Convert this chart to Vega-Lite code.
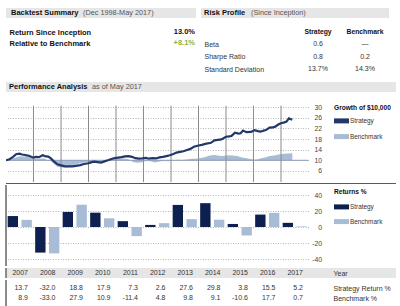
{
  "$schema": "https://vega.github.io/schema/vega-lite/v6.json",
  "background": "white",
  "padding": {"left": 5, "top": 8, "right": 0, "bottom": 0},
  "spacing": 0,
  "resolve": {"scale": {"color": "independent"}, "legend": {"color": "independent"}},
  "config": {
    "font": "Liberation Sans",
    "view": {"stroke": null},
    "locale": {"number": {"decimal": ".", "thousands": ",", "grouping": [3], "currency": ["$", ""], "minus": "-"}},
    "text": {"fontSize": 7, "color": "#333"},
    "axis": {"labelFontSize": 6.8, "labelColor": "#444"}
  },
  "datasets": {
    "bars": [
      {"year": "2007", "series": "Strategy", "ret": 13.7}, {"year": "2007", "series": "Benchmark", "ret": 8.9},
      {"year": "2008", "series": "Strategy", "ret": -32.0}, {"year": "2008", "series": "Benchmark", "ret": -33.0},
      {"year": "2009", "series": "Strategy", "ret": 18.8}, {"year": "2009", "series": "Benchmark", "ret": 27.9},
      {"year": "2010", "series": "Strategy", "ret": 17.9}, {"year": "2010", "series": "Benchmark", "ret": 10.9},
      {"year": "2011", "series": "Strategy", "ret": 7.3}, {"year": "2011", "series": "Benchmark", "ret": -11.4},
      {"year": "2012", "series": "Strategy", "ret": 2.6}, {"year": "2012", "series": "Benchmark", "ret": 4.8},
      {"year": "2013", "series": "Strategy", "ret": 27.6}, {"year": "2013", "series": "Benchmark", "ret": 9.8},
      {"year": "2014", "series": "Strategy", "ret": 29.8}, {"year": "2014", "series": "Benchmark", "ret": 9.1},
      {"year": "2015", "series": "Strategy", "ret": 3.8}, {"year": "2015", "series": "Benchmark", "ret": -10.6},
      {"year": "2016", "series": "Strategy", "ret": 15.5}, {"year": "2016", "series": "Benchmark", "ret": 17.7},
      {"year": "2017", "series": "Strategy", "ret": 5.2}, {"year": "2017", "series": "Benchmark", "ret": 0.7}
    ],
    "yearStarts": [
      {"year": "2008"}, {"year": "2009"}, {"year": "2010"}, {"year": "2011"}, {"year": "2012"},
      {"year": "2013"}, {"year": "2014"}, {"year": "2015"}, {"year": "2016"}, {"year": "2017"}
    ],
    "strategy": [
      {"date": "2007-01-01", "value": 10.0}, {"date": "2007-02-15", "value": 10.4}, {"date": "2007-04-01", "value": 11.2},
      {"date": "2007-05-15", "value": 12.3}, {"date": "2007-07-01", "value": 12.5}, {"date": "2007-08-01", "value": 12.2},
      {"date": "2007-09-15", "value": 12.0}, {"date": "2007-11-01", "value": 11.7}, {"date": "2008-01-01", "value": 11.0},
      {"date": "2008-02-01", "value": 11.3}, {"date": "2008-03-15", "value": 11.2}, {"date": "2008-05-01", "value": 11.9},
      {"date": "2008-06-01", "value": 11.6}, {"date": "2008-07-15", "value": 11.4}, {"date": "2008-08-15", "value": 10.8},
      {"date": "2008-10-01", "value": 9.5}, {"date": "2008-11-15", "value": 8.5}, {"date": "2009-01-01", "value": 8.1},
      {"date": "2009-02-15", "value": 7.8}, {"date": "2009-04-01", "value": 7.7}, {"date": "2009-06-01", "value": 7.7},
      {"date": "2009-07-15", "value": 7.9}, {"date": "2009-09-15", "value": 8.2}, {"date": "2009-11-01", "value": 8.6},
      {"date": "2010-01-01", "value": 8.9}, {"date": "2010-02-01", "value": 9.2}, {"date": "2010-03-15", "value": 9.5},
      {"date": "2010-05-01", "value": 9.3}, {"date": "2010-06-15", "value": 9.1}, {"date": "2010-08-01", "value": 9.6},
      {"date": "2010-09-15", "value": 10.0}, {"date": "2010-11-01", "value": 10.5}, {"date": "2010-12-15", "value": 10.8},
      {"date": "2011-02-01", "value": 11.0}, {"date": "2011-03-15", "value": 11.2}, {"date": "2011-05-01", "value": 11.5},
      {"date": "2011-06-15", "value": 11.6}, {"date": "2011-08-01", "value": 11.3}, {"date": "2011-09-15", "value": 10.8},
      {"date": "2011-11-01", "value": 10.6}, {"date": "2011-12-15", "value": 10.7}, {"date": "2012-02-01", "value": 10.9},
      {"date": "2012-03-15", "value": 10.6}, {"date": "2012-05-01", "value": 10.8}, {"date": "2012-06-15", "value": 10.7},
      {"date": "2012-08-01", "value": 11.1}, {"date": "2012-09-15", "value": 11.3}, {"date": "2012-11-01", "value": 11.6},
      {"date": "2012-12-15", "value": 11.9}, {"date": "2013-02-01", "value": 12.4}, {"date": "2013-03-15", "value": 12.9},
      {"date": "2013-05-01", "value": 13.2}, {"date": "2013-06-15", "value": 13.4}, {"date": "2013-08-01", "value": 13.9},
      {"date": "2013-09-15", "value": 14.3}, {"date": "2013-11-01", "value": 15.1}, {"date": "2014-01-01", "value": 15.6},
      {"date": "2014-02-15", "value": 15.8}, {"date": "2014-04-01", "value": 16.2}, {"date": "2014-06-15", "value": 16.6},
      {"date": "2014-08-01", "value": 17.5}, {"date": "2014-09-15", "value": 17.7}, {"date": "2014-11-01", "value": 17.9},
      {"date": "2015-01-01", "value": 18.9}, {"date": "2015-02-15", "value": 19.0}, {"date": "2015-03-15", "value": 19.2},
      {"date": "2015-05-01", "value": 20.4}, {"date": "2015-06-15", "value": 20.1}, {"date": "2015-07-15", "value": 20.2},
      {"date": "2015-08-15", "value": 21.2}, {"date": "2015-10-01", "value": 20.6}, {"date": "2015-12-01", "value": 20.7},
      {"date": "2016-01-15", "value": 21.4}, {"date": "2016-03-01", "value": 21.0}, {"date": "2016-04-01", "value": 20.8},
      {"date": "2016-05-15", "value": 21.2}, {"date": "2016-06-15", "value": 21.4}, {"date": "2016-08-01", "value": 22.3},
      {"date": "2016-09-15", "value": 22.4}, {"date": "2016-10-15", "value": 22.7}, {"date": "2016-12-01", "value": 23.6},
      {"date": "2017-01-01", "value": 24.0}, {"date": "2017-02-15", "value": 24.3}, {"date": "2017-03-15", "value": 24.6},
      {"date": "2017-04-15", "value": 25.8}, {"date": "2017-05-31", "value": 25.3}
    ],
    "benchmark": [
      {"date": "2007-01-01", "value": 10.0}, {"date": "2007-03-01", "value": 10.4}, {"date": "2007-05-01", "value": 11.0},
      {"date": "2007-07-01", "value": 11.5}, {"date": "2007-09-01", "value": 11.4}, {"date": "2007-10-15", "value": 11.8},
      {"date": "2007-12-01", "value": 11.1}, {"date": "2008-01-15", "value": 10.6}, {"date": "2008-03-15", "value": 10.5},
      {"date": "2008-05-15", "value": 10.8}, {"date": "2008-07-01", "value": 10.1}, {"date": "2008-08-15", "value": 9.8},
      {"date": "2008-10-01", "value": 8.6}, {"date": "2008-11-15", "value": 7.6}, {"date": "2009-01-01", "value": 7.4},
      {"date": "2009-02-15", "value": 7.1}, {"date": "2009-04-01", "value": 7.3}, {"date": "2009-06-01", "value": 8.0},
      {"date": "2009-08-01", "value": 8.6}, {"date": "2009-10-01", "value": 9.0}, {"date": "2009-12-01", "value": 9.3},
      {"date": "2010-02-01", "value": 9.2}, {"date": "2010-04-01", "value": 9.8}, {"date": "2010-06-01", "value": 9.1},
      {"date": "2010-08-01", "value": 9.5}, {"date": "2010-10-01", "value": 10.0}, {"date": "2010-12-01", "value": 10.3},
      {"date": "2011-02-01", "value": 10.6}, {"date": "2011-04-15", "value": 10.7}, {"date": "2011-06-15", "value": 10.4},
      {"date": "2011-08-15", "value": 9.4}, {"date": "2011-10-01", "value": 9.1}, {"date": "2011-12-01", "value": 9.2},
      {"date": "2012-02-01", "value": 9.7}, {"date": "2012-04-01", "value": 9.6}, {"date": "2012-06-01", "value": 9.2},
      {"date": "2012-08-01", "value": 9.5}, {"date": "2012-10-01", "value": 9.7}, {"date": "2012-12-01", "value": 9.6},
      {"date": "2013-02-01", "value": 10.0}, {"date": "2013-04-01", "value": 10.2}, {"date": "2013-06-01", "value": 10.1},
      {"date": "2013-08-01", "value": 10.3}, {"date": "2013-10-01", "value": 10.6}, {"date": "2013-12-01", "value": 10.6},
      {"date": "2014-02-01", "value": 10.9}, {"date": "2014-04-01", "value": 11.2}, {"date": "2014-06-01", "value": 11.8},
      {"date": "2014-08-01", "value": 12.0}, {"date": "2014-10-01", "value": 11.7}, {"date": "2014-12-01", "value": 11.6},
      {"date": "2015-02-01", "value": 11.9}, {"date": "2015-04-01", "value": 11.8}, {"date": "2015-06-01", "value": 11.6},
      {"date": "2015-08-01", "value": 11.1}, {"date": "2015-10-01", "value": 10.8}, {"date": "2015-12-01", "value": 10.4},
      {"date": "2016-02-01", "value": 10.2}, {"date": "2016-04-01", "value": 10.7}, {"date": "2016-06-01", "value": 11.1},
      {"date": "2016-08-01", "value": 11.6}, {"date": "2016-10-01", "value": 11.8}, {"date": "2016-12-01", "value": 12.2},
      {"date": "2017-02-01", "value": 12.5}, {"date": "2017-04-01", "value": 12.6}, {"date": "2017-05-31", "value": 12.7}
    ]
  },
  "vconcat": [
    {
      "spacing": 5,
      "hconcat": [
        {
          "spacing": 0,
          "vconcat": [
            {
              "width": 190, "height": 10,
              "view": {"fill": "#e6e6e6", "stroke": null},
              "data": {"values": [{"part": "Backtest Summary", "kind": "main"}, {"part": "(Dec 1998-May 2017)", "kind": "sub"}]},
              "layer": [
                {
                  "transform": [{"filter": "datum.kind === 'main'"}],
                  "mark": {"type": "text", "align": "left", "fontWeight": "bold", "fontSize": 7.5, "color": "#111"},
                  "encoding": {
                    "x": {"field": "kind", "type": "nominal", "scale": {"type": "point", "domain": ["main", "sub"], "range": [5, 77], "padding": 0}, "axis": null},
                    "text": {"field": "part"}
                  }
                },
                {
                  "transform": [{"filter": "datum.kind === 'sub'"}],
                  "mark": {"type": "text", "align": "left", "fontSize": 7.3, "color": "#555"},
                  "encoding": {
                    "x": {"field": "kind", "type": "nominal", "axis": null},
                    "text": {"field": "part"}
                  }
                }
              ]
            },
            {
              "width": 190, "height": 64,
              "data": {"values": [
                {"row": "Return Since Inception", "col": "value", "text": "13.0%"},
                {"row": "Relative to Benchmark", "col": "value", "text": "+8.1%"}
              ]},
              "mark": {"type": "text", "align": "right", "fontWeight": "bold", "fontSize": 7.5},
              "encoding": {
                "y": {"field": "row", "type": "nominal", "scale": {"type": "point", "domain": ["Return Since Inception", "Relative to Benchmark"], "range": [14, 25], "padding": 0},
                  "axis": {"orient": "left", "domain": false, "ticks": false, "tickSize": 0, "grid": false, "labelAlign": "left", "labelPadding": -3, "labelFontWeight": "bold", "labelFontSize": 7.5, "labelColor": "#111", "title": null}},
                "x": {"field": "col", "type": "nominal", "scale": {"type": "point", "domain": ["value"], "range": [189, 189], "padding": 0}, "axis": null},
                "text": {"field": "text"},
                "color": {"condition": {"test": "datum.row === 'Relative to Benchmark'", "value": "#8eb33b"}, "value": "#111"}
              }
            }
          ]
        },
        {
          "spacing": 0,
          "vconcat": [
            {
              "width": 188, "height": 10,
              "view": {"fill": "#e6e6e6", "stroke": null},
              "data": {"values": [{"part": "Risk Profile", "kind": "main"}, {"part": "(Since Inception)", "kind": "sub"}]},
              "layer": [
                {
                  "transform": [{"filter": "datum.kind === 'main'"}],
                  "mark": {"type": "text", "align": "left", "fontWeight": "bold", "fontSize": 7.5, "color": "#111"},
                  "encoding": {
                    "x": {"field": "kind", "type": "nominal", "scale": {"type": "point", "domain": ["main", "sub"], "range": [3, 50], "padding": 0}, "axis": null},
                    "text": {"field": "part"}
                  }
                },
                {
                  "transform": [{"filter": "datum.kind === 'sub'"}],
                  "mark": {"type": "text", "align": "left", "fontSize": 7.3, "color": "#555"},
                  "encoding": {
                    "x": {"field": "kind", "type": "nominal", "axis": null},
                    "text": {"field": "part"}
                  }
                }
              ]
            },
            {
              "width": 188, "height": 64,
              "layer": [
                {
                  "data": {"values": [{"col": "Strategy"}, {"col": "Benchmark"}]},
                  "mark": {"type": "text", "fontWeight": "bold", "fontSize": 6.8, "color": "#111"},
                  "encoding": {
                    "x": {"field": "col", "type": "nominal", "scale": {"type": "point", "domain": ["Strategy", "Benchmark"], "range": [117, 164], "padding": 0}, "axis": null},
                    "y": {"datum": "hdr", "type": "nominal", "scale": {"type": "point", "domain": ["hdr", "Beta", "Sharpe Ratio", "Standard Deviation"], "range": [14, 51], "padding": 0},
                      "axis": {"orient": "left", "values": ["Beta", "Sharpe Ratio", "Standard Deviation"], "domain": false, "ticks": false, "tickSize": 0, "grid": false, "labelAlign": "left", "labelPadding": -3, "labelFontSize": 7, "labelColor": "#333", "title": null}},
                    "text": {"field": "col"}
                  }
                },
                {
                  "data": {"values": [
                    {"row": "Beta", "col": "Strategy", "text": "0.6"}, {"row": "Beta", "col": "Benchmark", "text": "—"},
                    {"row": "Sharpe Ratio", "col": "Strategy", "text": "0.8"}, {"row": "Sharpe Ratio", "col": "Benchmark", "text": "0.2"},
                    {"row": "Standard Deviation", "col": "Strategy", "text": "13.7%"}, {"row": "Standard Deviation", "col": "Benchmark", "text": "14.3%"}
                  ]},
                  "mark": {"type": "text", "fontSize": 7, "color": "#333"},
                  "encoding": {
                    "x": {"field": "col", "type": "nominal", "axis": null},
                    "y": {"field": "row", "type": "nominal",
                      "axis": {"orient": "left", "values": ["Beta", "Sharpe Ratio", "Standard Deviation"], "domain": false, "ticks": false, "tickSize": 0, "grid": false, "labelAlign": "left", "labelPadding": -3, "labelFontSize": 7, "labelColor": "#333", "title": null}},
                    "text": {"field": "text"}
                  }
                }
              ]
            }
          ]
        }
      ]
    },
    {
      "width": 390, "height": 10,
      "view": {"fill": "#e6e6e6", "stroke": null},
      "data": {"values": [{"part": "Performance Analysis", "kind": "main"}, {"part": "as of May 2017", "kind": "sub"}]},
      "layer": [
        {
          "transform": [{"filter": "datum.kind === 'main'"}],
          "mark": {"type": "text", "align": "left", "fontWeight": "bold", "fontSize": 7.5, "color": "#111"},
          "encoding": {
            "x": {"field": "kind", "type": "nominal", "scale": {"type": "point", "domain": ["main", "sub"], "range": [3, 86], "padding": 0}, "axis": null},
            "text": {"field": "part"}
          }
        },
        {
          "transform": [{"filter": "datum.kind === 'sub'"}],
          "mark": {"type": "text", "align": "left", "fontSize": 7.3, "color": "#555"},
          "encoding": {
            "x": {"field": "kind", "type": "nominal", "axis": null},
            "text": {"field": "part"}
          }
        }
      ]
    },
    {
      "width": 302.5, "height": 90,
      "layer": [
        {
          "data": {"name": "benchmark"},
          "mark": {"type": "area", "clip": true, "opacity": 1},
          "encoding": {
            "x": {"field": "date", "type": "temporal", "scale": {"domain": [{"year": 2007, "month": 1, "date": 1, "utc": true}, {"year": 2018, "month": 1, "date": 1, "utc": true}]}, "axis": null},
            "y": {"field": "value", "type": "quantitative", "scale": {"domain": [1.81, 35.77], "nice": false, "zero": false},
              "axis": {"orient": "right", "values": [6, 10, 14, 18, 22, 26, 30], "grid": true, "gridColor": "#b5b5b5", "gridDash": [1, 1.5], "gridWidth": 1, "domain": false, "ticks": false, "tickSize": 0, "labelAlign": "right", "labelPadding": 13, "labelFontSize": 6.8, "labelColor": "#444", "title": null}},
            "y2": {"datum": 10},
            "color": {"datum": "Benchmark", "type": "nominal",
              "scale": {"domain": ["Strategy", "Benchmark"], "range": ["#22386a", "#a9bcd6"]},
              "legend": {
                "title": "Growth of $10,000", "orient": "none", "legendX": 328, "legendY": 12.7, "padding": 0,
                "titlePadding": 4.6, "titleFontSize": 6.6, "titleFontWeight": "bold", "titleColor": "#111",
                "labelFontSize": 6.4, "labelColor": "#333", "labelOffset": 6, "rowPadding": 6.7,
                "symbolType": "M-1,-0.5H2V0.5H-1Z", "symbolSize": 100, "symbolStrokeWidth": 0,
                "encode": {"symbols": {"update": {
                  "shape": [{"test": "datum.value === 'Strategy'", "value": "M-1,-0.27H2V0.27H-1Z"}, {"value": "M-1,-0.5H2V0.5H-1Z"}],
                  "fill": [{"test": "datum.value === 'Strategy'", "value": "#22386a"}, {"value": "#a9bcd6"}],
                  "stroke": {"value": "transparent"}, "opacity": {"value": 1}, "fillOpacity": {"value": 1}
                }}}
              }}
          }
        },
        {
          "data": {"values": [{}]},
          "mark": {"type": "rule", "color": "#8d9db6", "strokeWidth": 1},
          "encoding": {
            "y": {"datum": 10, "type": "quantitative",
              "axis": {"orient": "right", "values": [6, 10, 14, 18, 22, 26, 30], "grid": true, "gridColor": "#b5b5b5", "gridDash": [1, 1.5], "gridWidth": 1, "domain": false, "ticks": false, "tickSize": 0, "labelAlign": "right", "labelPadding": 13, "labelFontSize": 6.8, "labelColor": "#444", "title": null}}
          }
        },
        {
          "data": {"name": "yearStarts"},
          "mark": {"type": "rule", "color": "#8a8a8a", "strokeWidth": 1},
          "encoding": {
            "x": {"field": "year", "type": "temporal", "axis": null},
            "y": {"datum": 30.6, "type": "quantitative",
              "axis": {"orient": "right", "values": [6, 10, 14, 18, 22, 26, 30], "grid": true, "gridColor": "#b5b5b5", "gridDash": [1, 1.5], "gridWidth": 1, "domain": false, "ticks": false, "tickSize": 0, "labelAlign": "right", "labelPadding": 13, "labelFontSize": 6.8, "labelColor": "#444", "title": null}},
            "y2": {"datum": 1.81}
          }
        },
        {
          "data": {"name": "strategy"},
          "mark": {"type": "line", "strokeWidth": 2.2, "clip": true},
          "encoding": {
            "x": {"field": "date", "type": "temporal", "axis": null},
            "y": {"field": "value", "type": "quantitative",
              "axis": {"orient": "right", "values": [6, 10, 14, 18, 22, 26, 30], "grid": true, "gridColor": "#b5b5b5", "gridDash": [1, 1.5], "gridWidth": 1, "domain": false, "ticks": false, "tickSize": 0, "labelAlign": "right", "labelPadding": 13, "labelFontSize": 6.8, "labelColor": "#444", "title": null}},
            "color": {"datum": "Strategy", "type": "nominal"}
          }
        }
      ]
    },
    {
      "width": 390, "height": 1,
      "view": {"fill": "#5a5a5a", "stroke": null},
      "data": {"values": []},
      "mark": {"type": "text"},
      "encoding": {}
    },
    {
      "width": 302.5, "height": 81,
      "layer": [
        {
          "data": {"name": "bars"},
          "mark": {"type": "bar"},
          "encoding": {
            "x": {"field": "year", "type": "ordinal", "scale": {"domain": ["2007", "2008", "2009", "2010", "2011", "2012", "2013", "2014", "2015", "2016", "2017"], "paddingInner": 0, "paddingOuter": 0}, "axis": null},
            "xOffset": {"field": "series", "type": "nominal", "scale": {"domain": ["Strategy", "Benchmark"], "paddingInner": 0.25, "paddingOuter": 0.12}},
            "y": {"field": "ret", "type": "quantitative", "scale": {"domain": [-48.75, 52.5], "nice": false},
              "axis": {"orient": "right", "values": [-40, -20, 0, 20, 40], "grid": true, "gridColor": "#b5b5b5", "gridDash": [1, 1.5], "gridWidth": 1, "domain": false, "ticks": false, "tickSize": 0, "labelAlign": "right", "labelPadding": 13, "labelFontSize": 6.8, "labelColor": "#444", "title": null}},
            "color": {"field": "series", "type": "nominal",
              "scale": {"domain": ["Strategy", "Benchmark"], "range": ["#0e2050", "#a9bcd6"]},
              "legend": {
                "title": "Returns %", "orient": "none", "legendX": 328, "legendY": 3.7, "padding": 0,
                "titlePadding": 6.6, "titleFontSize": 6.6, "titleFontWeight": "bold", "titleColor": "#111",
                "labelFontSize": 6.4, "labelColor": "#333", "labelOffset": 6, "rowPadding": 5.7,
                "symbolType": "M-1,-0.5H2V0.5H-1Z", "symbolSize": 100, "symbolStrokeWidth": 0
              }}
          }
        },
        {
          "data": {"name": "yearStarts"},
          "mark": {"type": "rule", "color": "#8a8a8a", "strokeWidth": 1},
          "encoding": {
            "x": {"field": "year", "type": "ordinal", "bandPosition": 0, "axis": null}
          }
        }
      ]
    },
    {
      "width": 390, "height": 10,
      "view": {"fill": "#e6e6e6", "stroke": null},
      "layer": [
        {
          "data": {"name": "yearStarts"},
          "mark": {"type": "rule", "color": "#8a8a8a", "strokeWidth": 1},
          "encoding": {
            "x": {"field": "year", "type": "ordinal", "bandPosition": 0, "scale": {"domain": ["2007", "2008", "2009", "2010", "2011", "2012", "2013", "2014", "2015", "2016", "2017"], "range": [0, 302.5], "paddingInner": 0, "paddingOuter": 0}, "axis": null}
          }
        },
        {
          "data": {"name": "bars"},
          "transform": [{"filter": "datum.series === 'Strategy'"}],
          "mark": {"type": "text", "align": "right", "fontSize": 7, "color": "#333"},
          "encoding": {
            "x": {"field": "year", "type": "ordinal", "bandPosition": 0.8, "axis": null},
            "y": {"field": "series", "type": "nominal", "axis": {"orient": "right", "offset": -63, "labelExpr": "'Year'", "domain": false, "ticks": false, "tickSize": 0, "grid": false, "labelAlign": "left", "labelPadding": 0, "labelFontSize": 7, "labelColor": "#333", "title": null}},
            "text": {"field": "year"}
          }
        }
      ]
    },
    {
      "width": 390, "height": 29,
      "layer": [
        {
          "data": {"name": "yearStarts"},
          "mark": {"type": "rule", "color": "#8a8a8a", "strokeWidth": 1},
          "encoding": {
            "x": {"field": "year", "type": "ordinal", "bandPosition": 0, "scale": {"domain": ["2007", "2008", "2009", "2010", "2011", "2012", "2013", "2014", "2015", "2016", "2017"], "range": [0, 302.5], "paddingInner": 0, "paddingOuter": 0}, "axis": null}
          }
        },
        {
          "data": {"name": "bars"},
          "mark": {"type": "text", "align": "right", "fontSize": 7, "color": "#333"},
          "encoding": {
            "x": {"field": "year", "type": "ordinal", "bandPosition": 0.8, "axis": null},
            "y": {"field": "series", "type": "nominal", "scale": {"type": "point", "domain": ["Strategy", "Benchmark"], "range": [8, 18], "padding": 0},
              "axis": {"orient": "right", "offset": -63, "labelExpr": "datum.value === 'Strategy' ? 'Strategy Return %' : 'Benchmark %'", "domain": false, "ticks": false, "tickSize": 0, "grid": false, "labelAlign": "left", "labelPadding": 0, "labelFontSize": 7, "labelColor": "#333", "title": null}},
            "text": {"field": "ret", "type": "quantitative", "format": ".1f"}
          }
        }
      ]
    }
  ]
}
